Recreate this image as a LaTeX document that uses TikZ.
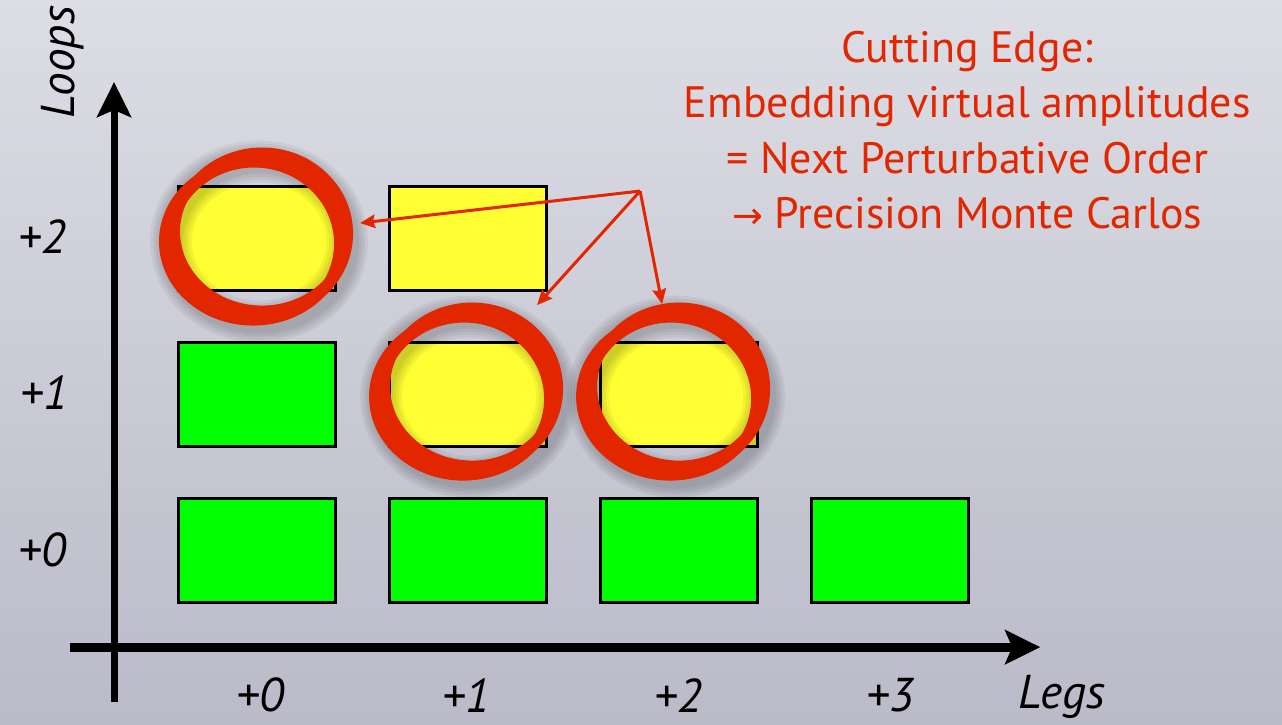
\documentclass[tikz,border=0pt]{standalone}
\usepackage{fontspec}
\setmainfont{PT Sans}
\newfontfamily\arrowfont{DejaVu Sans}
\usetikzlibrary{arrows.meta, positioning}

\definecolor{ringred}{RGB}{226,38,0}
\definecolor{sunfill}{RGB}{255,255,51}
\definecolor{grassfill}{RGB}{0,255,0}
\definecolor{bgtop}{RGB}{221,221,229}
\definecolor{bgbot}{RGB}{186,186,201}

% hand-drawn ring round a cell, with a soft shadow
\newcommand{\hoop}[1]{%
  \begin{scope}[shift={(#1)}]
    \foreach \w in {24,30,36,42}
      \draw[black, opacity=0.05, line width=\w*0.567pt] (3,4) ellipse [x radius=88, y radius=80];
    \fill[ringred, even odd rule] (-3,4) ellipse [x radius=94, y radius=84]
                                  (6,-6) ellipse [x radius=82, y radius=74];
    \fill[ringred, even odd rule] (6,-4) ellipse [x radius=91, y radius=86]
                                  (-2,6) ellipse [x radius=80, y radius=76];
  \end{scope}}

\begin{document}
\begin{tikzpicture}[
    x=0.02cm, y=-0.02cm,
    node distance=0.98cm and 1.02cm,
    cell/.style={rectangle, draw=black, line width=1.7pt, minimum width=3.14cm,
                 minimum height=2.08cm, inner sep=0pt},
    grass/.style={cell, fill=grassfill},
    sun/.style={cell, fill=sunfill},
    tick/.style={font=\fontsize{27}{30}\selectfont\itshape, inner sep=0pt},
    axis/.style={-{Stealth[length=0.7cm, width=0.68cm, inset=0.14cm]}, black},
    pointer/.style={-{Stealth[length=0.3cm, width=0.27cm, inset=0.04cm]}, line width=1.7pt, ringred},
]

% ── Background ──
\shade[top color=bgtop, bottom color=bgbot] (0cm,0cm) rectangle (25.64cm,-14.48cm);
\useasboundingbox (0cm,0cm) rectangle (25.64cm,-14.48cm);

% ── Axes ──
\coordinate (yfoot) at (114,702);
\coordinate (ytip) at (114,82);
\coordinate (xfoot) at (70,647);
\coordinate (xtip) at (1040,647);
\draw[axis, line width=4pt] (yfoot) -- (ytip);
\draw[axis, line width=5pt] (xfoot) -- (xtip);

\node[tick, rotate=90] (loops) at (63,62) {Loops};
\node[tick] (legs) at (1062,697) {Legs};

\node[tick] (y0) at (42,550) {+0};
\node[tick] (y1) at (44,393) {+1};
\node[tick] (y2) at (42,237) {+2};

\node[tick] (x0) at (260,695) {+0};
\node[tick] (x1) at (466,695) {+1};
\node[tick] (x2) at (678,695) {+2};
\node[tick] (x3) at (890,695) {+3};

% ── Cells ──
\node[grass] (c00) at (256.5,550.5) {};
\node[grass, right=of c00] (c10) {};
\node[grass, right=of c10] (c20) {};
\node[grass, right=of c20] (c30) {};
\node[grass, above=of c00] (c01) {};
\node[sun, right=of c01] (c11) {};
\node[sun, right=of c11] (c21) {};
\node[sun, above=of c01] (c02) {};
\node[sun, right=of c02] (c12) {};

% ── Rings ──
\coordinate (r1) at (256,237.5);
\coordinate (r2) at (466,392.5);
\coordinate (r3) at (673,392.5);
\hoop{r1}
\hoop{r2}
\hoop{r3}

% ── Note and pointers ──
\node[font=\fontsize{25}{31.6pt}\selectfont, text=ringred, align=center, inner sep=0pt]
  (note) at (967,130)
  {Cutting Edge:\\Embedding virtual amplitudes\\= Next Perturbative Order\\{\arrowfont\fontsize{21}{22}\selectfont →} Precision Monte Carlos};

\coordinate (fork) at (640,191);
\coordinate (t1) at (360,223);
\coordinate (t2) at (537,305);
\coordinate (t3) at (662,304);
\draw[pointer] (fork) -- (t1);
\draw[pointer] (fork) -- (t2);
\draw[pointer] (fork) -- (t3);

\end{tikzpicture}
\end{document}
